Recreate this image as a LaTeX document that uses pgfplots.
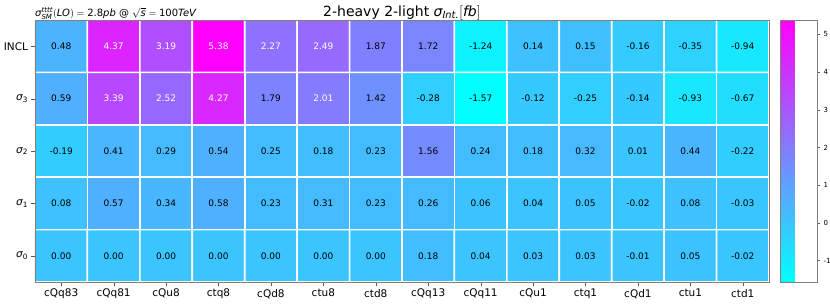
\documentclass[border=0pt]{standalone}
\usepackage{amsmath}
\usepackage{pgfplots}
\pgfplotsset{compat=1.18}
\usepackage{pgfplotstable}
\usepackage{fontspec}
\setmainfont{DejaVu Sans}

\pgfplotstableread{
x y v
0 0 0.00
1 0 0.00
2 0 0.00
3 0 0.00
4 0 0.00
5 0 0.00
6 0 0.00
7 0 0.18
8 0 0.04
9 0 0.03
10 0 0.03
11 0 -0.01
12 0 0.05
13 0 -0.02
0 1 0.08
1 1 0.57
2 1 0.34
3 1 0.58
4 1 0.23
5 1 0.31
6 1 0.23
7 1 0.26
8 1 0.06
9 1 0.04
10 1 0.05
11 1 -0.02
12 1 0.08
13 1 -0.03
0 2 -0.19
1 2 0.41
2 2 0.29
3 2 0.54
4 2 0.25
5 2 0.18
6 2 0.23
7 2 1.56
8 2 0.24
9 2 0.18
10 2 0.32
11 2 0.01
12 2 0.44
13 2 -0.22
0 3 0.59
1 3 3.39
2 3 2.52
3 3 4.27
4 3 1.79
5 3 2.01
6 3 1.42
7 3 -0.28
8 3 -1.57
9 3 -0.12
10 3 -0.25
11 3 -0.14
12 3 -0.93
13 3 -0.67
0 4 0.48
1 4 4.37
2 4 3.19
3 4 5.38
4 4 2.27
5 4 2.49
6 4 1.87
7 4 1.72
8 4 -1.24
9 4 0.14
10 4 0.15
11 4 -0.16
12 4 -0.35
13 4 -0.94
}\datatable

\begin{document}
\begin{tikzpicture}
\path[use as bounding box] (-35pt,-21pt) rectangle (795pt,282pt);
\begin{axis}[
  name=ax,
  at={(0,0)}, anchor=south west,
  scale only axis, width=734pt, height=262pt,
  xmin=-0.5, xmax=13.5, ymin=-0.5, ymax=4.5,
  enlargelimits=false,
  axis on top,
  colormap={cool}{rgb255=(0,255,255) rgb255=(255,0,255)},
  point meta min=-1.57, point meta max=5.38,
  colorbar,
  colorbar style={
    at={(parent axis.north east)}, anchor=north west, xshift=3pt,
    width=37pt,
    ytick={-1,0,...,5},
    ytick pos=right, yticklabel pos=right,
    tick align=outside, major tick length=2.5pt,
    yticklabel style={font=\fontsize{7}{8}\selectfont},
    /pgf/number format/assume math mode=true,
    axis line style={gray},
    tick style={draw=gray!70!black},
  },
  xtick={0,...,13},
  xticklabels={cQq83,cQq81,cQu8,ctq8,cQd8,ctu8,ctd8,cQq13,cQq11,cQu1,ctq1,cQd1,ctu1,ctd1},
  ytick={0,...,4},
  yticklabels={$\textit{σ}_{\textrm{0}}$,$\textit{σ}_{\textrm{1}}$,$\textit{σ}_{\textrm{2}}$,$\textit{σ}_{\textrm{3}}$,INCL},
  tick align=outside, major tick length=3.5pt,
  xtick pos=bottom, ytick pos=left,
  tick label style={font=\fontsize{10.5}{12}\selectfont},
  tick style={draw=gray!70!black},
  axis line style={gray},
]
\addplot[matrix plot*, mesh/cols=14, point meta=explicit, draw=white, line width=1.6pt]
  table[x=x, y=y, meta=v] {\datatable};
\addplot[draw=none, mark=none, nodes near coords, point meta=explicit symbolic,
  nodes near coords style={anchor=center, font=\fontsize{9}{10}\selectfont, text=black},
  restrict expr to domain={\thisrow{v}}{-10:1.95}]
  table[x=x, y=y, meta=v] {\datatable};
\addplot[draw=none, mark=none, nodes near coords, point meta=explicit symbolic,
  nodes near coords style={anchor=center, font=\fontsize{9}{10}\selectfont, text=white},
  restrict expr to domain={\thisrow{v}}{1.95:10}]
  table[x=x, y=y, meta=v] {\datatable};
\end{axis}
\node[anchor=base, inner sep=0pt, font=\fontsize{14}{16}\selectfont] at (ax.north) [yshift=4pt]
  {2-heavy 2-light $\textit{σ}_{\textit{Int.}}[\textit{fb}]$};
\node[anchor=base west, inner sep=0pt, font=\fontsize{10}{12}\selectfont] at (ax.north west) [yshift=4pt]
  {$\textit{σ}^{\textit{tttt}}_{\textit{SM}}(\textit{LO}) = \textrm{2.8}\textit{pb}$ @ $\sqrt{\textit{s}} = \textrm{100}\textit{TeV}$};
\end{tikzpicture}
\end{document}
